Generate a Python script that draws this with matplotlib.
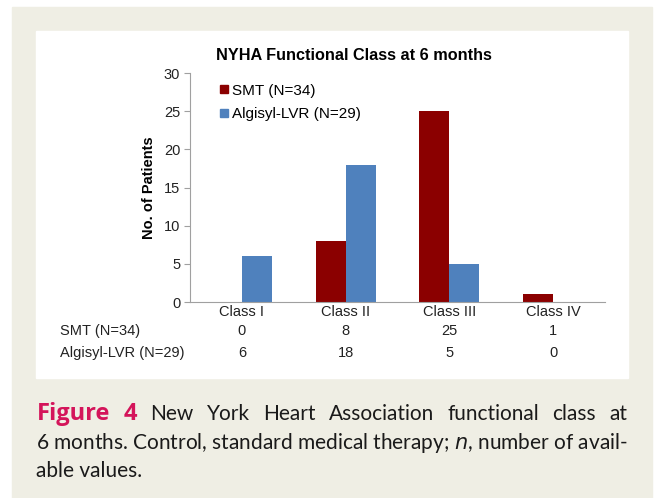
import numpy as np
import matplotlib
matplotlib.use('Agg')
import matplotlib.pyplot as plt
from matplotlib.patches import Rectangle
from matplotlib.lines import Line2D
import matplotlib.transforms as mtransforms

# data
classes = ['Class I', 'Class II', 'Class III', 'Class IV']
smt = [0, 8, 25, 1]
algisyl = [6, 18, 5, 0]
series_names = ['SMT (N=34)', 'Algisyl-LVR (N=29)']
y_ticks = [0, 5, 10, 15, 20, 25, 30]

red = '#8B0000'
blue = '#4F81BD'
beige = '#EFEEE4'
W, H = 655, 498

plt.rcParams['font.family'] = ['Liberation Sans', 'DejaVu Sans']

fig = plt.figure(figsize=(W / 100, H / 100), dpi=100)

# page background boxes (pixel coords -> figure fraction)
def box(x0, y0, x1, y1, color):
    fig.patches.append(Rectangle((x0 / W, 1 - y1 / H), (x1 - x0) / W, (y1 - y0) / H,
                                 transform=fig.transFigure, color=color, zorder=-10))

box(12, 7, 652, 498, beige)
box(36, 31, 628, 378, 'white')

ax = fig.add_axes([190 / W, 1 - 302 / H, 415 / W, 229 / H])
ax.set_facecolor('none')

x = np.arange(len(classes))
w = 0.29
ax.bar(x - w / 2, smt, w, color=red, label=series_names[0])
ax.bar(x + w / 2, algisyl, w, color=blue, label=series_names[1])

ax.set_xlim(-0.5, len(classes) - 0.5)
ax.set_ylim(0, 30)
ax.set_yticks(y_ticks)
ax.set_xticks(x)
ax.set_xticklabels(classes)
ax.tick_params(axis='y', length=4, color='#A0A0A0', labelsize=10.5, pad=3, labelcolor='#222222')
ax.tick_params(axis='x', length=0, labelsize=10.5, pad=2, labelcolor='#222222')
for s in ['top', 'right']:
    ax.spines[s].set_visible(False)
for s in ['left', 'bottom']:
    ax.spines[s].set_color('#A0A0A0')
    ax.spines[s].set_linewidth(0.8)

ax.set_ylabel('No. of Patients', fontsize=10.5, fontweight='bold', labelpad=6)
fig.text(354 / W, 1 - 55 / H, 'NYHA Functional Class at 6 months', fontsize=11.7,
         fontweight='bold', ha='center', va='center')

handles = [Line2D([], [], marker='s', linestyle='none', color=red, markersize=6),
           Line2D([], [], marker='s', linestyle='none', color=blue, markersize=6)]
ax.legend(handles, series_names, loc='upper left', bbox_to_anchor=(0.055, 0.98),
          frameon=False, fontsize=11, handlelength=0.6, handletextpad=0.25,
          labelspacing=0.6, borderaxespad=0)

# data table under the chart
trans = mtransforms.blended_transform_factory(ax.transData, fig.transFigure)
for row, (name, vals) in enumerate(zip(series_names, [smt, algisyl])):
    yy = 1 - (331 + row * 22) / H
    fig.text(60 / W, yy, name, fontsize=10.5, va='center', ha='left', color='#222222')
    for xi, v in zip(x, vals):
        ax.text(xi, yy, str(v), transform=trans, fontsize=10.5, va='center', ha='center',
                color='#222222')

# caption, first line justified word by word
cap_font = ['Lato', 'DejaVu Sans']
pink = '#D4145A'
ink = '#1a1a1a'
line1 = [('Figure', 'bold', pink), ('4', 'bold', pink)] + \
        [(wd, 'normal', ink) for wd in 'New York Heart Association functional class at'.split()]
y1 = 1 - 414 / H
words = [fig.text(0, y1, t, fontsize=17 if wt == 'bold' else 15, fontweight=wt, color=c,
                  family=['Open Sans', 'DejaVu Sans'] if wt == 'bold' else cap_font,
                  va='center')
         for t, wt, c in line1]
fig.canvas.draw()
r = fig.canvas.get_renderer()
widths = [t.get_window_extent(r).width for t in words]
left, right = 37, 627
gap = (right - left - sum(widths)) / (len(words) - 1)
pos = left
for t, wd in zip(words, widths):
    t.set_x(pos / W)
    pos += wd + gap

fig.text(36 / W, 1 - 443 / H, '6 months. Control, standard medical therapy; $\\it{n}$, number of avail-',
         fontsize=15, color=ink, family=cap_font, va='center')
fig.text(36 / W, 1 - 471 / H, 'able values.', fontsize=15, color=ink, family=cap_font,
         va='center')

fig.savefig('out.png', dpi=100)
